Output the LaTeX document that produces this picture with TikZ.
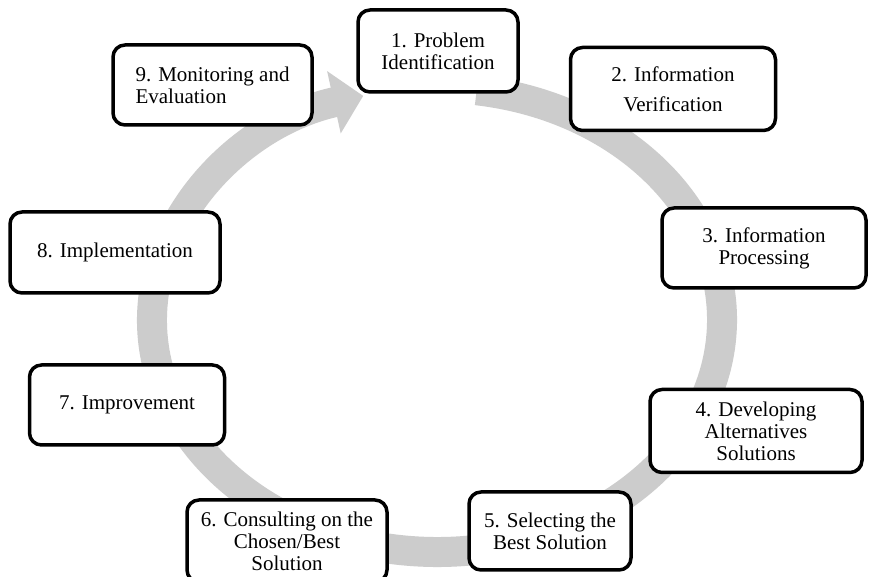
\documentclass[tikz,border=0pt]{standalone}
\usepackage{fontspec}
\setmainfont{Liberation Serif}
\usetikzlibrary{arrows.meta}
\begin{document}
\begin{tikzpicture}[x=1pt,y=1pt,
  stage/.style={draw=drawColor,fill=fillColor,line width=3.5pt,rounded corners=12pt,
    inner sep=0pt,align=center,font=\fontsize{21}{22}\selectfont},
  ring/.style={draw=ringColor,line width=30pt,-{Triangle[length=30pt,width=62pt]}}]
\definecolor{fillColor}{RGB}{255,255,255}
\definecolor{drawColor}{RGB}{0,0,0}
\definecolor{ringColor}{RGB}{204,204,204}
\path[use as bounding box,fill=fillColor] (0,0) rectangle (869,577);

\path[ring] (437,257) ++(82:285 and 232) arc[start angle=82,end angle=-255,x radius=285,y radius=232];

\node[stage,minimum width=160pt,minimum height=82pt] (s1) at (438,526) {1. Problem\\Identification};
\node[stage,minimum width=205pt,minimum height=83pt] (s2) at (673,488) {2. Information\\[8pt]Verification};
\node[stage,minimum width=204pt,minimum height=80pt] (s3) at (764,329) {3. Information\\Processing};
\node[stage,minimum width=212pt,minimum height=83pt] (s4) at (756,146) {4. Developing\\Alternatives\\Solutions};
\node[stage,minimum width=162pt,minimum height=78pt] (s5) at (550,46) {5. Selecting the\\Best Solution};
\node[stage,minimum width=200pt,minimum height=82pt] (s6) at (287,36) {6. Consulting on the\\Chosen/Best\\Solution};
\node[stage,minimum width=195pt,minimum height=80pt] (s7) at (127,172) {7. Improvement};
\node[stage,minimum width=210pt,minimum height=81pt] (s8) at (115,324.5) {8. Implementation};
\node[stage,minimum width=199pt,minimum height=80pt,align=left] (s9) at (212.5,492) {9. Monitoring and\\Evaluation};
\end{tikzpicture}
\end{document}
